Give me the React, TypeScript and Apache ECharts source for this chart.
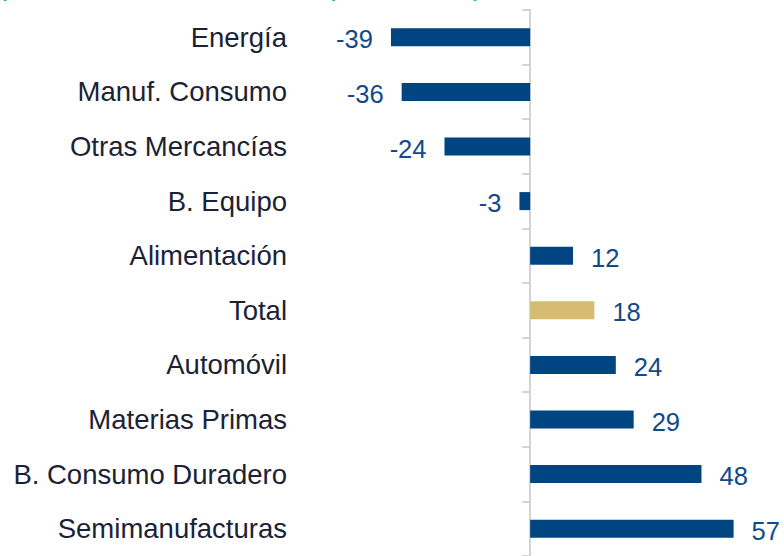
import React, { useEffect, useRef } from "react";
import * as echarts from "echarts";

const categories = [
  "Energía",
  "Manuf. Consumo",
  "Otras Mercancías",
  "B. Equipo",
  "Alimentación",
  "Total",
  "Automóvil",
  "Materias Primas",
  "B. Consumo Duradero",
  "Semimanufacturas",
];
const values = [-39, -36, -24, -3, 12, 18, 24, 29, 48, 57];
const highlight = "Total";
const titleText = "(Tasa de variación interanual de exportaciones, %)";

const BLUE = "#004481";
const GOLD = "#D6BB72";
const LABEL = "#11498A";
const FONT = "'Liberation Sans', Arial, sans-serif";

export default function App() {
  const ref = useRef<HTMLDivElement>(null);
  useEffect(() => {
    if (!ref.current) return;
    const chart = echarts.init(ref.current, null, { renderer: "svg" });
    const data = values.map((v, i) => ({
      value: v,
      itemStyle: { color: categories[i] === highlight ? GOLD : BLUE },
      label: { position: v < 0 ? "left" : "right" },
    }));
    chart.setOption({
      animation: false,
      backgroundColor: "#ffffff",
      graphic: [
        {
          type: "text",
          left: 0,
          top: -20,
          style: {
            text: titleText,
            fill: "#2BB5AE",
            font: `bold 20px ${FONT}`,
          },
        },
      ],
      grid: { left: 316, right: 4, top: 10, height: 550, containLabel: false },
      xAxis: {
        type: "value",
        min: -60,
        max: 70,
        show: false,
        splitLine: { show: false },
      },
      yAxis: [
        {
          type: "category",
          data: categories,
          inverse: true,
          position: "left",
          axisLine: { show: false, onZero: false },
          axisTick: { show: false },
          axisLabel: {
            margin: 29,
            color: "#1B2236",
            fontSize: 27.5,
            fontFamily: FONT,
            padding: [4, 0, 0, 0],
          },
        },
        {
          type: "category",
          data: categories,
          inverse: true,
          position: "left",
          axisLine: { show: true, onZero: true, lineStyle: { color: "#D4D4D4", width: 2 } },
          axisTick: { show: true, length: 8, lineStyle: { color: "#D4D4D4", width: 2 } },
          axisLabel: { show: false },
        },
      ],
      series: [
        {
          type: "bar",
          yAxisIndex: 0,
          data,
          barWidth: 18,
          label: {
            show: true,
            distance: 18,
            offset: [0, 2],
            color: LABEL,
            fontSize: 25.5,
            fontFamily: FONT,
          },
        },
      ],
    });
    return () => chart.dispose();
  }, []);
  return (
    <div
      ref={ref}
      style={{ position: "fixed", left: 0, top: 0, width: 784, height: 556 }}
    />
  );
}
